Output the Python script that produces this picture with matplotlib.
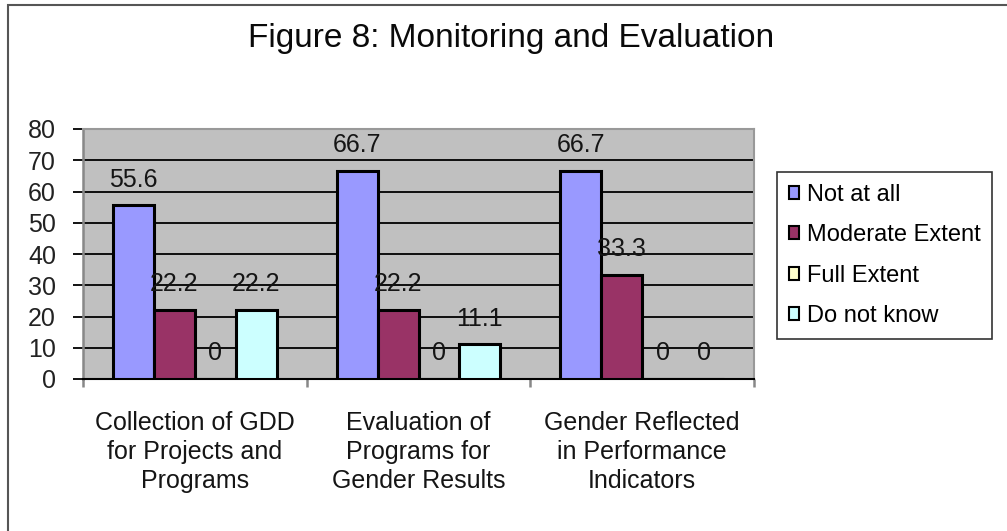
import matplotlib
matplotlib.use("Agg")
import matplotlib.pyplot as plt
from matplotlib.patches import Rectangle
import numpy as np

plt.rcParams['font.family'] = ['Liberation Sans', 'DejaVu Sans']

categories = ["Collection of GDD\nfor Projects and\nPrograms",
              "Evaluation of\nPrograms for\nGender Results",
              "Gender Reflected\nin Performance\nIndicators"]
series_names = ["Not at all", "Moderate Extent", "Full Extent", "Do not know"]
not_at_all = [55.6, 66.7, 66.7]
moderate = [22.2, 22.2, 33.3]
full_extent = [0, 0, 0]
do_not_know = [22.2, 11.1, 0]
series_values = [not_at_all, moderate, full_extent, do_not_know]
colors = ["#9999FF", "#993366", "#FFFFCC", "#CCFFFF"]
yticks = [0, 10, 20, 30, 40, 50, 60, 70, 80]

W, H = 1007, 531
fig = plt.figure(figsize=(W / 100, H / 100), dpi=100)
fig.patch.set_facecolor("white")

# outer frame (partially visible)
fig.add_artist(Rectangle((8 / W, -0.1), 1.2, (H - 5) / H + 0.1, transform=fig.transFigure,
                         fill=False, edgecolor="#555555", linewidth=1.5))

ax = fig.add_axes([83 / W, 1 - 379 / H, (754 - 83) / W, (379 - 129) / H])
ax.set_facecolor("#C0C0C0")
x = np.arange(len(categories))
bw = 41 / 224
for i, (vals, c) in enumerate(zip(series_values, colors)):
    pos = x + (i - 1.5) * bw
    ax.bar(pos, vals, width=bw, color=c, edgecolor="black", linewidth=2.2,
           label=series_names[i], zorder=3)
    for p, v in zip(pos, vals):
        lbl = "0" if v == 0 else f"{v:g}"
        ax.annotate(lbl, (p, v), xytext=(0, 18.5), textcoords="offset points",
                    ha="center", va="center", fontsize=18, color="#151515", zorder=4)

ax.set_xlim(-0.5, 2.5)
ax.set_ylim(0, 80)
ax.set_yticks(yticks)
ax.set_yticklabels([str(t) for t in yticks], fontsize=18, color="#222222")
ax.yaxis.grid(True, color="black", linewidth=1.3, zorder=1)
ax.set_axisbelow(True)
ax.set_xticks([-0.5, 0.5, 1.5, 2.5])
ax.set_xticklabels([])
ax.tick_params(axis="x", length=6, color="#888888", width=1.8, direction="out")
ax.tick_params(axis="y", length=7.5, color="black", width=1.3, pad=12)
for i, cat in enumerate(categories):
    xf = (83 + (i + 0.5) * (754 - 83) / 3) / W
    fig.text(xf, 1 - 411 / H, cat, ha="center", va="top", fontsize=18,
             linespacing=1.27, color="#151515")
for s in ["top", "right"]:
    ax.spines[s].set_color("#999999")
    ax.spines[s].set_linewidth(1.5)
ax.spines["left"].set_color("#888888")
ax.spines["left"].set_linewidth(1.8)
ax.spines["bottom"].set_color("black")
ax.spines["bottom"].set_linewidth(1.5)

fig.text(511 / W, 1 - 39 / H, "Figure 8: Monitoring and Evaluation", ha="center", va="center",
         fontsize=24, color="#0a0a0a")

leg = fig.legend(loc="upper left", bbox_to_anchor=(777 / W, 1 - 172 / H), frameon=True,
                 fontsize=17, handlelength=0.45, handleheight=0.45, handletextpad=0.3,
                 labelspacing=0.78, borderpad=0.5, borderaxespad=0, fancybox=False)
leg.get_frame().set_edgecolor("black")
leg.get_frame().set_linewidth(1.2)
for h in leg.legend_handles:
    h.set_linewidth(1.5)

fig.savefig("out.png", dpi=100)
